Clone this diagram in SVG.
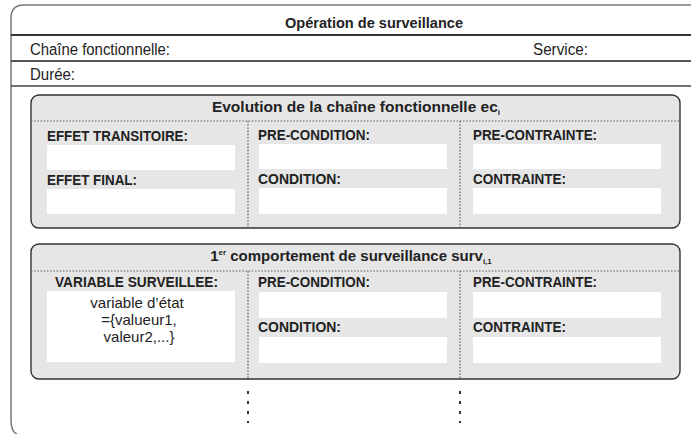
<svg xmlns="http://www.w3.org/2000/svg" width="691" height="434" viewBox="0 0 691 434">
<style>
text{font-family:"Liberation Sans",Arial,sans-serif;fill:#222}
.t{font-size:15.5px;font-weight:bold}
.t2{font-size:15px;font-weight:bold}
.r{font-size:16px}
.v{font-size:15px}
.l{font-size:14.5px;font-weight:bold}
.panel{fill:#e6e6e7;stroke:#333;stroke-width:1.4}
.w{fill:#fff}
.dot{stroke:#666;stroke-width:1.2;stroke-dasharray:1.6 1.6;fill:none}
.dash{stroke:#333;stroke-width:2;stroke-dasharray:3 7;fill:none}
</style>
<rect width="691" height="434" fill="#fff"/>
<g id="frame">
<path d="M691,5 H24 Q11,5 11,18 V420 Q11,432 17,434" fill="none" stroke="#777" stroke-width="1.5"/>
<line x1="11" y1="35" x2="691" y2="35" stroke="#333" stroke-width="2.2"/>
<line x1="11" y1="61" x2="691" y2="61" stroke="#555" stroke-width="1.8"/>
<line x1="11" y1="86" x2="691" y2="86" stroke="#444" stroke-width="1.6"/>
<text class="t" x="285" y="28" textLength="178" lengthAdjust="spacingAndGlyphs">Opération de surveillance</text>
<text class="r" x="30" y="55" textLength="140" lengthAdjust="spacingAndGlyphs">Chaîne fonctionnelle:</text>
<text class="r" x="533" y="55" textLength="55" lengthAdjust="spacingAndGlyphs">Service:</text>
<text class="r" x="30" y="80" textLength="45" lengthAdjust="spacingAndGlyphs">Durée:</text>
</g>
<g id="evolution">
<rect class="panel" x="31" y="95" width="649" height="133" rx="8"/>
<text class="t" x="356" y="112" text-anchor="middle">Evolution de la chaîne fonctionnelle ec<tspan style="font-size:8px" dy="3">i</tspan></text>
<rect class="w" x="47" y="145" width="188" height="25"/>
<rect class="w" x="47" y="189" width="188" height="25"/>
<rect class="w" x="259" y="144" width="188" height="25"/>
<rect class="w" x="259" y="188" width="188" height="26"/>
<rect class="w" x="473" y="144" width="188" height="25"/>
<rect class="w" x="473" y="188" width="188" height="26"/>
<text class="l" x="47" y="141" textLength="141" lengthAdjust="spacingAndGlyphs">EFFET TRANSITOIRE:</text>
<text class="l" x="47" y="185" textLength="90" lengthAdjust="spacingAndGlyphs">EFFET FINAL:</text>
<text class="l" x="258" y="140" textLength="112" lengthAdjust="spacingAndGlyphs">PRE-CONDITION:</text>
<text class="l" x="258" y="184" textLength="83" lengthAdjust="spacingAndGlyphs">CONDITION:</text>
<text class="l" x="473" y="140" textLength="124" lengthAdjust="spacingAndGlyphs">PRE-CONTRAINTE:</text>
<text class="l" x="473" y="184" textLength="93" lengthAdjust="spacingAndGlyphs">CONTRAINTE:</text>
</g>
<g id="surveillance">
<rect class="panel" x="31" y="244" width="649" height="135" rx="8"/>
<text class="t2" x="351" y="261" text-anchor="middle">1<tspan style="font-size:8px" dy="-6">er</tspan><tspan dy="6"> comportement de surveillance surv</tspan><tspan style="font-size:8px" dy="3">i,1</tspan></text>
<rect class="w" x="47" y="291" width="188" height="71"/>
<rect class="w" x="259" y="292" width="188" height="26"/>
<rect class="w" x="259" y="337" width="188" height="26"/>
<rect class="w" x="473" y="292" width="188" height="26"/>
<rect class="w" x="473" y="337" width="188" height="26"/>
<text class="l" x="55" y="287" textLength="163" lengthAdjust="spacingAndGlyphs">VARIABLE SURVEILLEE:</text>
<text class="v" x="137" y="308" text-anchor="middle">variable d’état</text>
<text class="v" x="139" y="325" text-anchor="middle">={valueur1,</text>
<text class="v" x="139" y="342" text-anchor="middle">valeur2,...}</text>
<text class="l" x="258" y="287" textLength="112" lengthAdjust="spacingAndGlyphs">PRE-CONDITION:</text>
<text class="l" x="258" y="332" textLength="83" lengthAdjust="spacingAndGlyphs">CONDITION:</text>
<text class="l" x="473" y="287" textLength="124" lengthAdjust="spacingAndGlyphs">PRE-CONTRAINTE:</text>
<text class="l" x="473" y="332" textLength="93" lengthAdjust="spacingAndGlyphs">CONTRAINTE:</text>
</g>
<g id="connectors">
<line class="dot" x1="31" y1="121" x2="680" y2="121"/>
<line class="dot" x1="248" y1="121" x2="248" y2="228"/>
<line class="dot" x1="460" y1="121" x2="460" y2="228"/>
<line class="dot" x1="31" y1="271" x2="680" y2="271"/>
<line class="dot" x1="248" y1="271" x2="248" y2="379"/>
<line class="dot" x1="460" y1="271" x2="460" y2="379"/>
<line class="dash" x1="248" y1="391" x2="248" y2="423"/>
<line class="dash" x1="460" y1="391" x2="460" y2="423"/>
</g>
</svg>
